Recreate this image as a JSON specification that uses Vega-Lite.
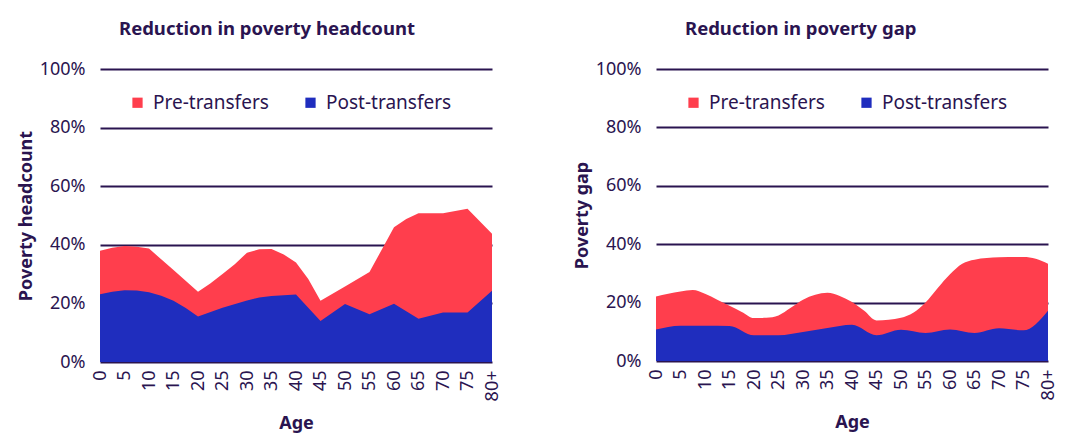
{
  "$schema": "https://vega.github.io/schema/vega-lite/v6.json",
  "padding": {"left": 17, "top": 19, "right": 17, "bottom": 4},
  "background": "white",
  "spacing": 72,
  "config": {
    "font": "Noto Sans",
    "view": {"stroke": null},
    "axis": {
      "labelColor": "#2a1450", "titleColor": "#2a1450", "labelFontSize": 18, "titleFontSize": 18,
      "titleFontWeight": "bold", "labelFont": "Noto Sans", "titleFont": "Noto Sans",
      "domain": false, "ticks": false
    },
    "title": {"color": "#2a1450", "fontSize": 18.5, "fontWeight": "bold", "font": "Noto Sans", "anchor": "start", "frame": "group", "offset": 22},
    "legend": {
      "orient": "none", "legendX": 28, "legendY": 24, "direction": "horizontal", "title": null,
      "symbolType": "square", "symbolSize": 105, "symbolStrokeWidth": 0, "labelFontSize": 19,
      "labelColor": "#2a1450", "labelOffset": 6, "columnPadding": 32, "labelFont": "Noto Sans"
    }
  },
  "resolve": {"scale": {"color": "independent"}, "legend": {"color": "independent"}},
  "datasets": {
    "headcount": [
      {"age": 0, "series": "Pre-transfers", "value": 38.0},
      {"age": 2.5, "series": "Pre-transfers", "value": 39.0},
      {"age": 5, "series": "Pre-transfers", "value": 39.6},
      {"age": 7.5, "series": "Pre-transfers", "value": 39.3},
      {"age": 10, "series": "Pre-transfers", "value": 38.7},
      {"age": 15, "series": "Pre-transfers", "value": 31.4},
      {"age": 20, "series": "Pre-transfers", "value": 24.0},
      {"age": 22.5, "series": "Pre-transfers", "value": 26.8},
      {"age": 25, "series": "Pre-transfers", "value": 30.0},
      {"age": 27.5, "series": "Pre-transfers", "value": 33.4},
      {"age": 30, "series": "Pre-transfers", "value": 37.3},
      {"age": 32.5, "series": "Pre-transfers", "value": 38.5},
      {"age": 35, "series": "Pre-transfers", "value": 38.6},
      {"age": 37.5, "series": "Pre-transfers", "value": 36.7},
      {"age": 40, "series": "Pre-transfers", "value": 34.0},
      {"age": 42.5, "series": "Pre-transfers", "value": 28.3},
      {"age": 45, "series": "Pre-transfers", "value": 20.9},
      {"age": 50, "series": "Pre-transfers", "value": 25.8},
      {"age": 55, "series": "Pre-transfers", "value": 30.7},
      {"age": 60, "series": "Pre-transfers", "value": 46.0},
      {"age": 62.5, "series": "Pre-transfers", "value": 48.8},
      {"age": 65, "series": "Pre-transfers", "value": 50.8},
      {"age": 70, "series": "Pre-transfers", "value": 50.8},
      {"age": 75, "series": "Pre-transfers", "value": 52.3},
      {"age": 80, "series": "Pre-transfers", "value": 43.8},
      {"age": 0, "series": "Post-transfers", "value": 23.1},
      {"age": 2.5, "series": "Post-transfers", "value": 24.0},
      {"age": 5, "series": "Post-transfers", "value": 24.5},
      {"age": 7.5, "series": "Post-transfers", "value": 24.4},
      {"age": 10, "series": "Post-transfers", "value": 23.8},
      {"age": 12.5, "series": "Post-transfers", "value": 22.6},
      {"age": 15, "series": "Post-transfers", "value": 20.9},
      {"age": 17.5, "series": "Post-transfers", "value": 18.4},
      {"age": 20, "series": "Post-transfers", "value": 15.5},
      {"age": 25, "series": "Post-transfers", "value": 18.5},
      {"age": 30, "series": "Post-transfers", "value": 21.0},
      {"age": 32.5, "series": "Post-transfers", "value": 22.0},
      {"age": 35, "series": "Post-transfers", "value": 22.5},
      {"age": 40, "series": "Post-transfers", "value": 23.0},
      {"age": 45, "series": "Post-transfers", "value": 14.0},
      {"age": 50, "series": "Post-transfers", "value": 19.8},
      {"age": 55, "series": "Post-transfers", "value": 16.3},
      {"age": 60, "series": "Post-transfers", "value": 19.9},
      {"age": 65, "series": "Post-transfers", "value": 14.8},
      {"age": 70, "series": "Post-transfers", "value": 16.9},
      {"age": 75, "series": "Post-transfers", "value": 16.9},
      {"age": 80, "series": "Post-transfers", "value": 24.3}
    ],
    "gap": [
      {"age": 0, "series": "Pre-transfers", "value": 22.1},
      {"age": 5, "series": "Pre-transfers", "value": 23.8},
      {"age": 7.5, "series": "Pre-transfers", "value": 24.3},
      {"age": 10, "series": "Pre-transfers", "value": 23.0},
      {"age": 12.5, "series": "Pre-transfers", "value": 21.0},
      {"age": 15, "series": "Pre-transfers", "value": 18.9},
      {"age": 17.5, "series": "Pre-transfers", "value": 16.8},
      {"age": 20, "series": "Pre-transfers", "value": 14.7},
      {"age": 22.5, "series": "Pre-transfers", "value": 14.8},
      {"age": 25, "series": "Pre-transfers", "value": 15.6},
      {"age": 27.5, "series": "Pre-transfers", "value": 18.2},
      {"age": 30, "series": "Pre-transfers", "value": 21.0},
      {"age": 32.5, "series": "Pre-transfers", "value": 22.7},
      {"age": 35, "series": "Pre-transfers", "value": 23.4},
      {"age": 37.5, "series": "Pre-transfers", "value": 22.3},
      {"age": 40, "series": "Pre-transfers", "value": 20.2},
      {"age": 42.5, "series": "Pre-transfers", "value": 17.2},
      {"age": 45, "series": "Pre-transfers", "value": 13.9},
      {"age": 50, "series": "Pre-transfers", "value": 14.8},
      {"age": 52.5, "series": "Pre-transfers", "value": 16.5},
      {"age": 55, "series": "Pre-transfers", "value": 20.0},
      {"age": 57.5, "series": "Pre-transfers", "value": 25.0},
      {"age": 60, "series": "Pre-transfers", "value": 29.7},
      {"age": 62.5, "series": "Pre-transfers", "value": 33.3},
      {"age": 65, "series": "Pre-transfers", "value": 34.7},
      {"age": 70, "series": "Pre-transfers", "value": 35.5},
      {"age": 75, "series": "Pre-transfers", "value": 35.6},
      {"age": 77.5, "series": "Pre-transfers", "value": 35.0},
      {"age": 80, "series": "Pre-transfers", "value": 33.3},
      {"age": 0, "series": "Post-transfers", "value": 10.8},
      {"age": 5, "series": "Post-transfers", "value": 12.1},
      {"age": 10, "series": "Post-transfers", "value": 12.1},
      {"age": 15, "series": "Post-transfers", "value": 12.0},
      {"age": 20, "series": "Post-transfers", "value": 8.8},
      {"age": 25, "series": "Post-transfers", "value": 8.8},
      {"age": 30, "series": "Post-transfers", "value": 9.9},
      {"age": 35, "series": "Post-transfers", "value": 11.3},
      {"age": 40, "series": "Post-transfers", "value": 12.4},
      {"age": 45, "series": "Post-transfers", "value": 8.8},
      {"age": 50, "series": "Post-transfers", "value": 10.7},
      {"age": 55, "series": "Post-transfers", "value": 9.6},
      {"age": 60, "series": "Post-transfers", "value": 10.8},
      {"age": 65, "series": "Post-transfers", "value": 9.6},
      {"age": 70, "series": "Post-transfers", "value": 11.2},
      {"age": 75, "series": "Post-transfers", "value": 10.5},
      {"age": 80, "series": "Post-transfers", "value": 17.2}
    ]
  },
  "hconcat": [
    {
      "width": 392, "height": 293,
      "title": {"text": "Reduction in poverty headcount", "dx": 19},
      "data": {"name": "headcount"},
      "encoding": {
        "x": {"field": "age", "type": "quantitative", "scale": {"domain": [0, 80], "nice": false},
          "axis": {"values": [0,5,10,15,20,25,30,35,40,45,50,55,60,65,70,75,80], "labelAngle": -90, "labelAlign": "right", "labelBaseline": "middle",
            "labelExpr": "datum.value == 80 ? '80+' : datum.label", "title": "Age", "grid": false, "labelPadding": 8, "titlePadding": 14, "labelFlush": false, "labelOverlap": false}},
        "y": {"field": "value", "type": "quantitative", "stack": null, "scale": {"domain": [0, 100], "nice": false},
          "axis": {"values": [0,20,40,60,80,100], "labelExpr": "datum.value + '%'", "title": "Poverty headcount", "grid": true,
            "gridColor": "#2a1450", "gridWidth": 2, "gridOpacity": 1, "labelPadding": 15, "titlePadding": 4}},
        "color": {"field": "series", "type": "nominal", "scale": {"domain": ["Pre-transfers", "Post-transfers"], "range": ["#FF3E4D", "#1F2DBE"]}}
      },
      "layer": [
        {"transform": [{"filter": "datum.series == 'Pre-transfers'"}], "mark": {"type": "area", "interpolate": "linear", "opacity": 1}},
        {"transform": [{"filter": "datum.series == 'Post-transfers'"}], "mark": {"type": "area", "interpolate": "linear", "opacity": 1}}
      ]
    },
    {
      "width": 392, "height": 292,
      "title": {"text": "Reduction in poverty gap", "dx": 29},
      "data": {"name": "gap"},
      "encoding": {
        "x": {"field": "age", "type": "quantitative", "scale": {"domain": [0, 80], "nice": false},
          "axis": {"values": [0,5,10,15,20,25,30,35,40,45,50,55,60,65,70,75,80], "labelAngle": -90, "labelAlign": "right", "labelBaseline": "middle",
            "labelExpr": "datum.value == 80 ? '80+' : datum.label", "title": "Age", "grid": false, "labelPadding": 8, "titlePadding": 14, "labelFlush": false, "labelOverlap": false}},
        "y": {"field": "value", "type": "quantitative", "stack": null, "scale": {"domain": [0, 100], "nice": false},
          "axis": {"values": [0,20,40,60,80,100], "labelExpr": "datum.value + '%'", "title": "Poverty gap", "grid": true,
            "gridColor": "#2a1450", "gridWidth": 2, "gridOpacity": 1, "labelPadding": 15, "titlePadding": 4}},
        "color": {"field": "series", "type": "nominal", "scale": {"domain": ["Pre-transfers", "Post-transfers"], "range": ["#FF3E4D", "#1F2DBE"]}}
      },
      "layer": [
        {"transform": [{"filter": "datum.series == 'Pre-transfers'"}], "mark": {"type": "area", "interpolate": "monotone", "opacity": 1}},
        {"transform": [{"filter": "datum.series == 'Post-transfers'"}], "mark": {"type": "area", "interpolate": "monotone", "opacity": 1}}
      ]
    }
  ]
}
